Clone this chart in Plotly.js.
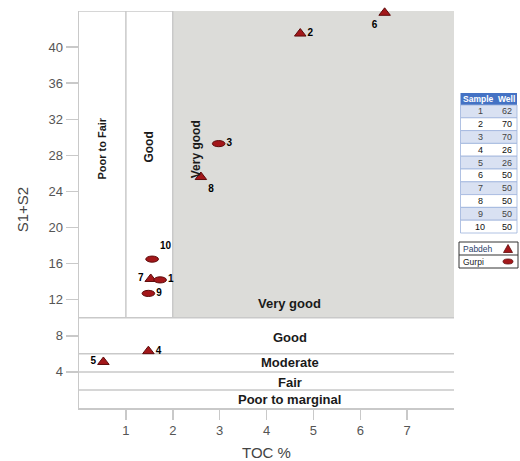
<!DOCTYPE html>
<html>
<head>
<meta charset="utf-8">
<script src="https://cdn.plot.ly/plotly-3.0.1.min.js"></script>
<style>html,body{margin:0;padding:0;background:#fff;}#chart{width:520px;height:461px;}</style>
</head>
<body>
<div id="chart"></div>
<script>
// ---- data ----
var pabdehSamples = ["2", "4", "5", "6", "7", "8"];
var pabdehTOC     = [4.72, 1.48, 0.52, 6.52, 1.53, 2.60];
var pabdehS1S2    = [41.5, 6.3, 5.1, 43.8, 14.3, 25.6];

var gurpiSamples = ["1", "3", "9", "10"];
var gurpiTOC     = [1.73, 2.98, 1.48, 1.56];
var gurpiS1S2    = [14.2, 29.3, 12.7, 16.5];

var tableSample = [1, 2, 3, 4, 5, 6, 7, 8, 9, 10];
var tableWell   = [62, 70, 70, 26, 26, 50, 50, 50, 50, 50];

var xTicks = [1, 2, 3, 4, 5, 6, 7];
var yTicks = [4, 8, 12, 16, 20, 24, 28, 32, 36, 40];

// zone boundaries
var tocBounds = [1, 2];
var s1s2Bounds = [10, 6, 4, 2];

// ---- styles (label positions) ----
var pabdehLabelPos = ["middle right", "middle right", "middle left", "bottom left", "middle left", "bottom right"];
var gurpiLabelPos  = ["middle right", "middle right", "middle right", "top right"];

var red = "#a3171a", redDark = "#5e0b0b";
var lineCol = "#c9c9c9";
var xMax = 8, yMax = 44;
var FF = "Liberation Sans, Arial, sans-serif";

var shapes = [];
var annotations = [];
// shaded very good region
shapes.push({type: "rect", xref: "x", yref: "y", x0: tocBounds[1], x1: xMax, y0: s1s2Bounds[0], y1: yMax,
  fillcolor: "#dcdcd9", line: {width: 0}, layer: "below"});
tocBounds.forEach(function (b) {
  shapes.push({type: "line", xref: "x", yref: "y", x0: b, x1: b, y0: s1s2Bounds[0], y1: yMax,
    line: {color: lineCol, width: 1.5}, layer: "below"});
});
s1s2Bounds.forEach(function (b) {
  shapes.push({type: "line", xref: "x", yref: "y", x0: 0, x1: xMax, y0: b, y1: b,
    line: {color: lineCol, width: 1.5}, layer: "below"});
});
shapes.push({type: "line", xref: "x", yref: "y", x0: 0, x1: tocBounds[1], y0: yMax, y1: yMax,
  line: {color: lineCol, width: 1.5}, layer: "below"});

// Gurpi ellipses
gurpiTOC.forEach(function (x, i) {
  var y = gurpiS1S2[i];
  shapes.push({type: "circle", xref: "x", yref: "y", x0: x - 0.135, x1: x + 0.135, y0: y - 0.34, y1: y + 0.34,
    fillcolor: red, line: {color: redDark, width: 1}, layer: "above"});
});

// paper helpers (plot area spans 79..518 horizontally, 11..408 vertically)
var plotW = 520 - 79 - 2, plotH = 461 - 11 - 53;
function px(x) { return (x - 79) / plotW; }
function py(y) { return (408 - y) / plotH; }
function pAnn(x, y, text, font, xanchor) {
  return {x: px(x), y: py(y), xref: "paper", yref: "paper", text: text, showarrow: false,
    xanchor: xanchor || "center", yanchor: "middle", font: font};
}

// ---- Sample / Well table ----
var tL = 460.5, tR = 517, tMid = 495, hTop = 93, hBot = 105, rowH = 12.8;
shapes.push({type: "rect", xref: "paper", yref: "paper", x0: px(tL), x1: px(tR), y0: py(hBot), y1: py(hTop),
  fillcolor: "#4472c4", line: {width: 0}});
annotations.push(pAnn(478.5, (hTop + hBot) / 2, "<b>Sample</b>", {family: FF, size: 8.5, color: "#ffffff"}));
annotations.push(pAnn(506.5, (hTop + hBot) / 2, "<b>Well</b>", {family: FF, size: 8.5, color: "#ffffff"}));
tableSample.forEach(function (s, i) {
  var y0 = hBot + i * rowH, y1 = y0 + rowH;
  shapes.push({type: "rect", xref: "paper", yref: "paper", x0: px(tL), x1: px(tR), y0: py(y1), y1: py(y0),
    fillcolor: i % 2 === 0 ? "#d9e1f2" : "#ffffff", line: {color: "#9db3dc", width: 0.8}});
  var f = {family: FF, size: 9, color: i % 2 === 0 ? "#444" : "#111"};
  annotations.push(pAnn(480, (y0 + y1) / 2, String(s), f));
  annotations.push(pAnn(506.5, (y0 + y1) / 2, String(tableWell[i]), f));
});

// ---- legend box ----
shapes.push({type: "rect", xref: "paper", yref: "paper", x0: px(459), x1: px(518), y0: py(268), y1: py(242),
  fillcolor: "#ffffff", line: {color: "#333", width: 1}});
shapes.push({type: "line", xref: "paper", yref: "paper", x0: px(459), x1: px(518), y0: py(255), y1: py(255),
  line: {color: "#333", width: 1}});
shapes.push({type: "path", xref: "paper", yref: "paper",
  path: "M " + px(503.5) + " " + py(252.5) + " L " + px(512.5) + " " + py(252.5) + " L " + px(508) + " " + py(244.5) + " Z",
  fillcolor: red, line: {color: redDark, width: 0.8}});
shapes.push({type: "circle", xref: "paper", yref: "paper", x0: px(503), x1: px(513), y0: py(264), y1: py(259),
  fillcolor: red, line: {color: redDark, width: 0.8}});
annotations.push(pAnn(461, 248.5, "Pabdeh", {family: FF, size: 8.5, color: "#2b3f6b"}, "left"));
annotations.push(pAnn(461, 261.5, "Gurpi", {family: FF, size: 8.5, color: "#222"}, "left"));

// ---- zone labels ----
function bold(t) { return "<b>" + t + "</b>"; }
var zf12 = {family: FF, size: 12, color: "#1a1a1a"};
var zf11 = {family: FF, size: 11, color: "#1a1a1a"};
var zf13 = {family: FF, size: 13, color: "#1a1a1a"};
annotations = annotations.concat([
  {x: 0.5, y: 28.8, xref: "x", yref: "y", text: bold("Poor to Fair"), textangle: -90, showarrow: false, font: zf11},
  {x: 1.5, y: 28.9, xref: "x", yref: "y", text: bold("Good"), textangle: -90, showarrow: false, font: zf12},
  {x: 2.5, y: 28.7, xref: "x", yref: "y", text: bold("Very good"), textangle: -90, showarrow: false, font: zf12},
  {x: 4.5, y: 11.6, xref: "x", yref: "y", text: bold("Very good"), showarrow: false, font: zf13},
  {x: 4.5, y: 7.8, xref: "x", yref: "y", text: bold("Good"), showarrow: false, font: zf13},
  {x: 4.5, y: 5.05, xref: "x", yref: "y", text: bold("Moderate"), showarrow: false, font: zf13},
  {x: 4.5, y: 2.8, xref: "x", yref: "y", text: bold("Fair"), showarrow: false, font: zf13},
  {x: 4.5, y: 0.95, xref: "x", yref: "y", text: bold("Poor to marginal"), showarrow: false, font: zf13}
]);

var labelFont = {family: FF, size: 10, color: "#000"};

var traces = [
  {type: "scatter", mode: "markers+text", name: "Pabdeh", x: pabdehTOC, y: pabdehS1S2, text: pabdehSamples.map(bold),
    textposition: pabdehLabelPos, textfont: labelFont, cliponaxis: false,
    marker: {symbol: "triangle-up", size: 10, color: red, line: {color: redDark, width: 1}}},
  {type: "scatter", mode: "markers+text", name: "Gurpi", x: gurpiTOC, y: gurpiS1S2, text: gurpiSamples.map(bold),
    textposition: gurpiLabelPos, textfont: labelFont, cliponaxis: false,
    marker: {symbol: "circle", size: 11, color: "rgba(0,0,0,0)", line: {width: 0}}}
];

var layout = {
  width: 520, height: 461,
  margin: {l: 79, r: 2, t: 11, b: 53},
  paper_bgcolor: "#ffffff", plot_bgcolor: "#ffffff",
  showlegend: false, hovermode: false,
  font: {family: FF, color: "#555"},
  xaxis: {domain: [0, 375 / plotW], range: [0, xMax], tickvals: xTicks, ticktext: xTicks.map(String),
    showgrid: false, zeroline: false, showline: true, linecolor: lineCol, linewidth: 1.5,
    ticks: "outside", ticklen: 10, tickcolor: lineCol, tickwidth: 1.5,
    tickfont: {size: 13, color: "#555"},
    title: {text: "TOC %", font: {size: 15, color: "#444"}, standoff: 12}},
  yaxis: {range: [0, yMax], tickvals: yTicks, ticktext: yTicks.map(String),
    showgrid: false, zeroline: false, showline: true, linecolor: lineCol, linewidth: 1.5,
    ticks: "outside", ticklen: 12, tickcolor: lineCol, tickwidth: 1.5,
    tickfont: {size: 13, color: "#555"},
    title: {text: "S1+S2", font: {size: 15, color: "#444"}, standoff: 16}},
  shapes: shapes,
  annotations: annotations
};

Plotly.newPlot("chart", traces, layout, {displayModeBar: false, staticPlot: true});
</script>
</body>
</html>
